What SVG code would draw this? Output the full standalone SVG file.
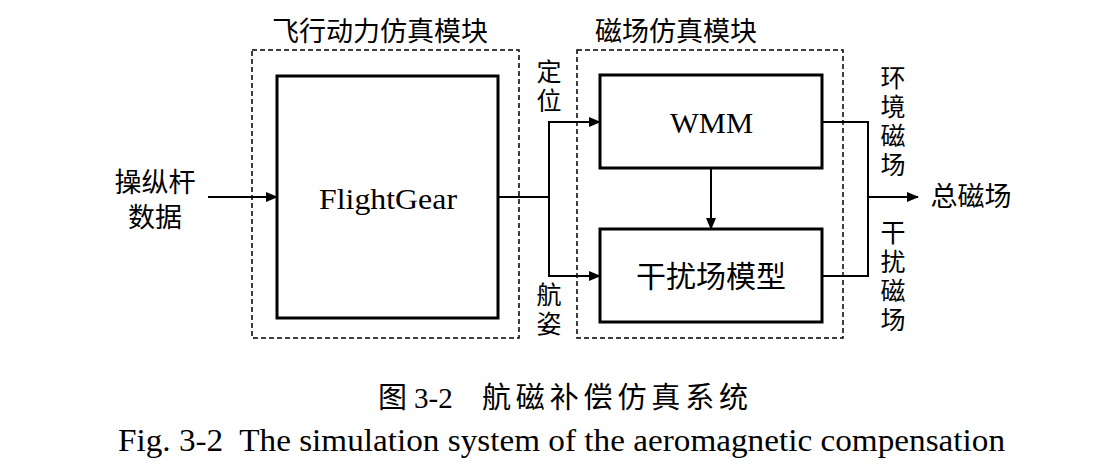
<svg xmlns="http://www.w3.org/2000/svg" width="1107" height="472" viewBox="0 0 1107 472">
<defs>
<marker id="ah" markerWidth="12" markerHeight="10" refX="11" refY="5" orient="auto" markerUnits="userSpaceOnUse"><path d="M0,0 L12,5 L0,10 Z" fill="#000"/></marker>
<style>
.cjk{font-family:"Liberation Serif","Noto Sans CJK SC",serif;fill:#000}
.lat{font-family:"Liberation Serif",serif;fill:#000}
.dash{fill:none;stroke:#000;stroke-width:1.5;stroke-dasharray:5,3}
.blk{fill:#fff;stroke:#000;stroke-width:3}
.ln{fill:none;stroke:#000;stroke-width:2}
</style>
</defs>
<rect width="1107" height="472" fill="#fff"/>
<g id="flight-module">
<rect class="dash" x="252" y="50" width="267" height="288"/>
<text class="cjk" x="380" y="41" font-size="27" text-anchor="middle">飞行动力仿真模块</text>
</g>
<g id="mag-module">
<rect class="dash" x="577" y="50" width="266" height="288"/>
<text class="cjk" x="676" y="41" font-size="27" text-anchor="middle">磁场仿真模块</text>
</g>
<g id="flightgear">
<rect class="blk" x="277" y="76" width="221" height="242"/>
<text class="lat" x="319" y="209" font-size="30" textLength="138" lengthAdjust="spacingAndGlyphs">FlightGear</text>
</g>
<g id="wmm">
<rect class="blk" x="600" y="75" width="222" height="93"/>
<text class="lat" x="670" y="133" font-size="30" textLength="83" lengthAdjust="spacingAndGlyphs">WMM</text>
</g>
<g id="interference">
<rect class="blk" x="600" y="229" width="222" height="93"/>
<text class="cjk" x="711" y="287" font-size="30" text-anchor="middle">干扰场模型</text>
</g>
<g id="connectors">
<line class="ln" x1="208" y1="197" x2="277" y2="197" marker-end="url(#ah)"/>
<line class="ln" x1="498" y1="197" x2="549" y2="197"/>
<polyline class="ln" points="600,122 549,122 549,276 600,276"/>
<line class="ln" x1="549" y1="122" x2="600" y2="122" marker-end="url(#ah)"/>
<line class="ln" x1="549" y1="276" x2="600" y2="276" marker-end="url(#ah)"/>
<line class="ln" x1="711" y1="168" x2="711" y2="229" marker-end="url(#ah)"/>
<polyline class="ln" points="822,122 868,122 868,276 822,276"/>
<line class="ln" x1="868" y1="197" x2="918" y2="197" marker-end="url(#ah)"/>
</g>
<g id="labels">
<text class="cjk" font-size="27" text-anchor="middle"><tspan x="155" y="192">操纵杆</tspan><tspan x="155" y="227">数据</tspan></text>
<text class="cjk" x="549" y="81" font-size="25" text-anchor="middle">定</text>
<text class="cjk" x="549" y="110" font-size="25" text-anchor="middle">位</text>
<text class="cjk" x="549" y="304" font-size="25" text-anchor="middle">航</text>
<text class="cjk" x="549" y="333" font-size="25" text-anchor="middle">姿</text>
<text class="cjk" x="893" y="87" font-size="25" text-anchor="middle">环</text>
<text class="cjk" x="893" y="116" font-size="25" text-anchor="middle">境</text>
<text class="cjk" x="893" y="145" font-size="25" text-anchor="middle">磁</text>
<text class="cjk" x="893" y="174" font-size="25" text-anchor="middle">场</text>
<text class="cjk" x="893" y="242" font-size="25" text-anchor="middle">干</text>
<text class="cjk" x="893" y="271" font-size="25" text-anchor="middle">扰</text>
<text class="cjk" x="893" y="300" font-size="25" text-anchor="middle">磁</text>
<text class="cjk" x="893" y="329" font-size="25" text-anchor="middle">场</text>
<text class="cjk" x="971" y="206" font-size="27" text-anchor="middle">总磁场</text>
</g>
<g id="caption">
<text class="cjk" y="408" font-size="29"><tspan x="378">图</tspan><tspan x="414">3-2</tspan><tspan x="482" textLength="266" lengthAdjust="spacing">航磁补偿仿真系统</tspan></text>
<text class="lat" x="118" y="451" font-size="31" textLength="887" lengthAdjust="spacingAndGlyphs" xml:space="preserve">Fig. 3-2  The simulation system of the aeromagnetic compensation</text>
</g>
</svg>
